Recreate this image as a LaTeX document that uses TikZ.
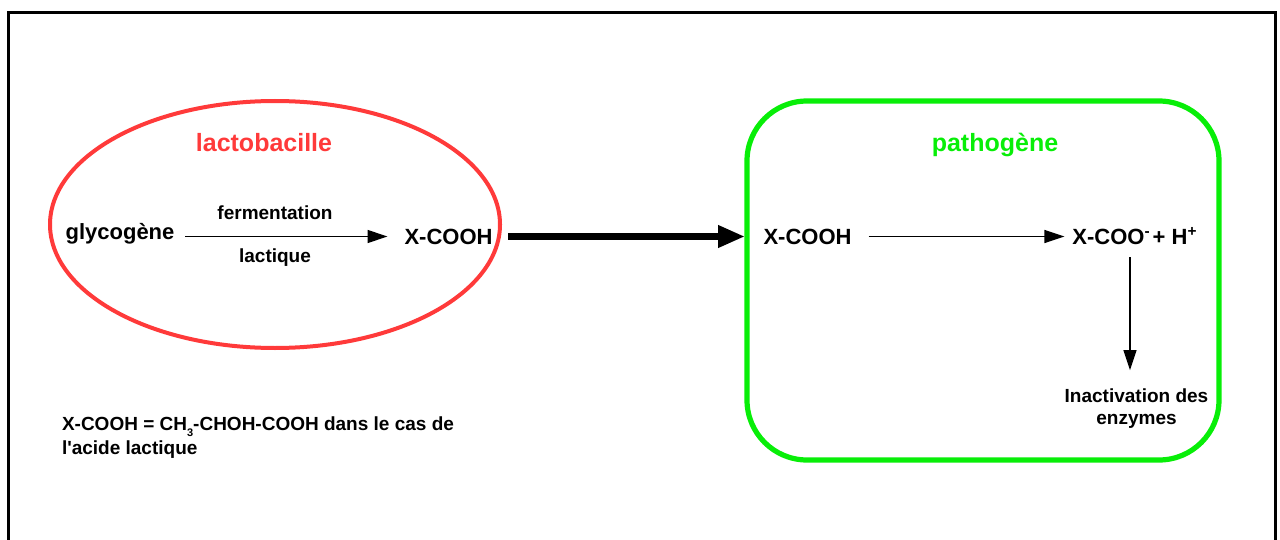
\documentclass[tikz,border=0pt]{standalone}
\usepackage{fontspec}
\setmainfont{Liberation Sans}
\usetikzlibrary{arrows.meta,shapes.geometric}

\definecolor{lactored}{RGB}{255,58,58}
\definecolor{pathgreen}{RGB}{8,238,8}

% small lowered index, as in CH3
\newcommand\lowidx[1]{\raisebox{-0.6ex}{\fontsize{5.5pt}{6pt}\selectfont #1}}
% straight apostrophe (no TeX ligature mapping)
\newcommand\straightquote{{\addfontfeatures{Ligatures=TeXOff}'}}

\begin{document}
\begin{tikzpicture}[x=0.5pt,y=-0.5pt,
  every node/.style={inner sep=0pt, outer sep=0pt},
  titletext/.style={font=\fontsize{12.5pt}{15pt}\selectfont\bfseries},
  chemtext/.style={font=\fontsize{11pt}{13pt}\selectfont\bfseries},
  smalltext/.style={font=\fontsize{9.5pt}{11pt}\selectfont\bfseries},
  notetext/.style={font=\fontsize{9.5pt}{12pt}\selectfont\bfseries},
  thinarrow/.style={-{Triangle[length=10pt,width=6.5pt]}, line width=0.65pt},
  thickarrow/.style={-{Triangle[length=13.5pt,width=10.5pt]}, line width=3.5pt},
  ]
\useasboundingbox (0,0) rectangle (1280,540);
\clip (0,0) rectangle (1280,540);

% outer frame (runs on below the lower edge)
\draw[line width=1.5pt] (8,570) -- (8,13) -- (1275,13) -- (1275,570);

% the two cells
\node[draw=lactored, line width=2pt, ellipse,
      minimum width=225pt, minimum height=123.5pt] (lacto) at (275,224.5) {};
\node[draw=pathgreen, line width=2.6pt, rounded corners=30pt,
      minimum width=236pt, minimum height=179.5pt] (patho) at (983,280.5) {};

% reference level of the horizontal arrows
\coordinate (lvl) at (0,236.5);
\coordinate (downx) at (1130,0);

% lactobacille
\node[titletext, text=lactored, anchor=base] (lactotitle) at (264,152) {lactobacille};
\node[chemtext, anchor=base] (glyco) at (120,239) {glycogène};
\node[smalltext, anchor=base] (ferm) at (275,220) {fermentation};
\node[smalltext, anchor=base] (lact) at (275,262) {lactique};
\node[chemtext, anchor=base] (acidA) at (448.5,244) {X-COOH};

% pathogène
\node[titletext, text=pathgreen, anchor=base] (pathotitle) at (995,152) {pathogène};
\node[chemtext, anchor=base] (acidB) at (807.5,244) {X-COOH};
\node[chemtext, anchor=base] (ions) at (1135,244)
  {X-COO\textsuperscript{-}\kern1pt+ H\textsuperscript{+}};
\node[smalltext, align=center] (inact) at (1136.5,409)
  {Inactivation des\\enzymes};

% note
\node[notetext, align=left, anchor=north west]
  (note) at (62,417)
  {X-COOH = CH\lowidx{3}-CHOH-COOH dans le cas de\\l\straightquote acide lactique};

% connectors
\draw[thinarrow, shorten <=5.5pt, shorten >=8.5pt]
  (glyco.east |- lvl) -- (acidA.west |- lvl);
\draw[thickarrow, shorten <=4pt, shorten >=1pt]
  (lacto.east |- lvl) -- (patho.west |- lvl);
\draw[thinarrow, shorten <=8.5pt, shorten >=4pt]
  (acidB.east |- lvl) -- (ions.west |- lvl);
\draw[thinarrow, shorten <=6.5pt, shorten >=9.5pt]
  (ions.south -| downx) -- (inact.north -| downx);
\end{tikzpicture}
\end{document}
